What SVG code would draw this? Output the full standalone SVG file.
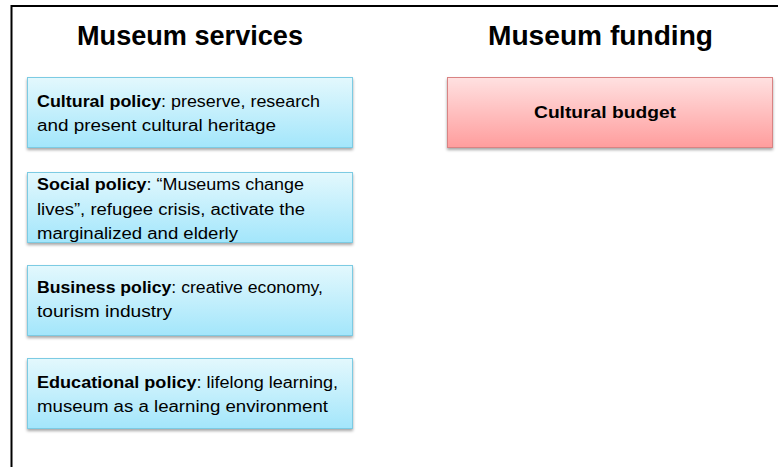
<svg xmlns="http://www.w3.org/2000/svg" width="778" height="467" viewBox="0 0 778 467">
  <defs>
    <linearGradient id="blueGrad" x1="0" y1="0" x2="0" y2="1">
      <stop offset="0" stop-color="#e3f8fd"/>
      <stop offset="1" stop-color="#a3e6fb"/>
    </linearGradient>
    <linearGradient id="redGrad" x1="0" y1="0" x2="0" y2="1">
      <stop offset="0" stop-color="#ffe1e1"/>
      <stop offset="1" stop-color="#ff9d9d"/>
    </linearGradient>
    <filter id="shadow" x="-5%" y="-10%" width="110%" height="130%">
      <feDropShadow dx="0" dy="2" stdDeviation="1.5" flood-color="#000" flood-opacity="0.35"/>
    </filter>
  </defs>
  <style>
    .title { font-family: "Liberation Sans", Arial, sans-serif; font-size: 27px; font-weight: bold; fill: #000; }
    .body { font-family: "Liberation Sans", Arial, sans-serif; font-size: 16px; fill: #000; }
    .b { font-weight: bold; }
    .blue { fill: url(#blueGrad); stroke: #7ccbe3; stroke-width: 1; filter: url(#shadow); }
    .red { fill: url(#redGrad); stroke: #d98383; stroke-width: 1; filter: url(#shadow); }
  </style>
  <rect width="778" height="467" fill="#fff"/>
  <path d="M11.5,467 V6 H778" fill="none" stroke="#000" stroke-width="2"/>

  <g id="title-services">
    <text class="title" x="77" y="45" textLength="226" lengthAdjust="spacingAndGlyphs">Museum services</text>
  </g>
  <g id="title-funding">
    <text class="title" x="488" y="45" textLength="225" lengthAdjust="spacingAndGlyphs">Museum funding</text>
  </g>

  <g id="cultural-policy">
    <rect class="blue" x="27.5" y="77.5" width="325" height="70"/>
    <text class="body" x="37" y="107" textLength="283" lengthAdjust="spacingAndGlyphs"><tspan class="b">Cultural policy</tspan>: preserve, research</text>
    <text class="body" x="37" y="131" textLength="239" lengthAdjust="spacingAndGlyphs">and present cultural heritage</text>
  </g>

  <g id="social-policy">
    <rect class="blue" x="27.5" y="172.5" width="325" height="70"/>
    <text class="body" x="37" y="190" textLength="267" lengthAdjust="spacingAndGlyphs"><tspan class="b">Social policy</tspan>: “Museums change</text>
    <text class="body" x="37" y="215" textLength="268" lengthAdjust="spacingAndGlyphs">lives”, refugee crisis, activate the</text>
    <text class="body" x="37" y="239" textLength="201" lengthAdjust="spacingAndGlyphs">marginalized and elderly</text>
  </g>

  <g id="business-policy">
    <rect class="blue" x="27.5" y="265.5" width="325" height="70"/>
    <text class="body" x="37" y="293" textLength="286" lengthAdjust="spacingAndGlyphs"><tspan class="b">Business policy</tspan>: creative economy,</text>
    <text class="body" x="37" y="317" textLength="135" lengthAdjust="spacingAndGlyphs">tourism industry</text>
  </g>

  <g id="educational-policy">
    <rect class="blue" x="27.5" y="358.5" width="325" height="70"/>
    <text class="body" x="37" y="388" textLength="301" lengthAdjust="spacingAndGlyphs"><tspan class="b">Educational policy</tspan>: lifelong learning,</text>
    <text class="body" x="37" y="412" textLength="291" lengthAdjust="spacingAndGlyphs">museum as a learning environment</text>
  </g>

  <g id="cultural-budget">
    <rect class="red" x="447.5" y="77.5" width="325" height="70"/>
    <text class="body b" x="534" y="118" textLength="142" lengthAdjust="spacingAndGlyphs">Cultural budget</text>
  </g>
</svg>
